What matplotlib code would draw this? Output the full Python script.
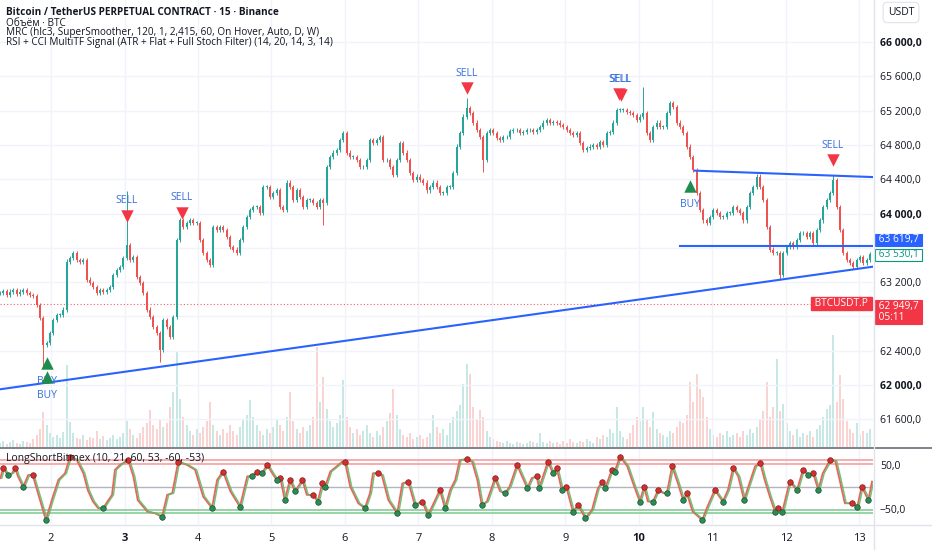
import numpy as np
import matplotlib
matplotlib.use("Agg")
import matplotlib.pyplot as plt
from matplotlib.lines import Line2D

plt.rcParams['font.family'] = ['Open Sans', 'DejaVu Sans']

# BTCUSDT.P closes (~1 candle per hour)
close = [
    63070, 63100, 63050, 63090, 63110, 63060, 63090, 63110, 63070, 63050,
    63040, 62930, 62780, 62470, 62490, 62610, 62760, 62820, 62820, 62880,
    63440, 63480, 63540, 63460, 63440, 63460, 63230, 63190, 63140, 63070,
    63110, 63090, 63110, 63140, 63280, 63340, 63380, 63480, 63630, 63460,
    63490, 63260, 63190, 63070, 62880, 62790, 62680, 62610, 62410, 62760,
    62680, 62560, 62790, 63690, 63920, 63840, 63890, 63920, 63890, 63890,
    63690, 63540, 63460, 63400, 63840, 63810, 63840, 63810, 63730, 63610,
    63580, 63540, 63690, 63840, 63960, 64040, 64080, 64080, 64010, 64310,
    64310, 64190, 64240, 64270, 64080, 64040, 64360, 64310, 64160, 64270,
    64190, 64080, 64160, 64160, 64120, 64080, 64160, 64120, 64540, 64660,
    64710, 64740, 64860, 64940, 64710, 64660, 64660, 64620, 64540, 64540,
    64620, 64860, 64820, 64860, 64890, 64620, 64620, 64540, 64450, 64620,
    64820, 64710, 64620, 64470, 64390, 64430, 64390, 64360, 64270, 64310,
    64360, 64310, 64240, 64240, 64310, 64310, 64470, 64780, 64940, 65130,
    65230, 65170, 65060, 64970, 64890, 64620, 64940, 64970, 64940, 64880,
    64860, 64890, 64890, 64960, 64970, 64970, 64940, 64950, 64970, 64970,
    64950, 64970, 65010, 65060, 65090, 65060, 65070, 65060, 65030, 65010,
    64970, 64940, 64920, 64940, 64820, 64740, 64760, 64780, 64800, 64780,
    64830, 64800, 64940, 64950, 65060, 65210, 65210, 65210, 65180, 65170,
    65150, 65090, 65130, 65170, 64940, 64860, 65010, 65060, 65010, 65010,
    65170, 65290, 65240, 65060, 65010, 64940, 64780, 64660, 64510, 64240,
    64040, 63920, 63890, 63960, 64040, 64010, 63960, 63960, 64010, 64010,
    64080, 64040, 64010, 63920, 64080, 64240, 64310, 64430, 64310, 64160,
    63840, 63580, 63540, 63540, 63280, 63540, 63610, 63660, 63610, 63690,
    63770, 63770, 63730, 63770, 63660, 63810, 63920, 64080, 64160, 64240,
    64390, 64080, 63810, 63540, 63460, 63420, 63380, 63460, 63490, 63420,
    63460, 63530,
]

# volume per candle, hundreds of BTC
volume = [
    4, 6, 3, 5, 7, 4, 3, 6, 5, 4,
    8, 12, 18, 35, 22, 14, 10, 12, 9, 15,
    82, 25, 14, 9, 8, 12, 7, 10, 9, 16,
    8, 11, 7, 9, 12, 8, 10, 14, 26, 18,
    12, 9, 14, 20, 24, 37, 22, 18, 28, 20,
    24, 40, 55, 95, 48, 30, 22, 16, 12, 18,
    14, 20, 26, 45, 22, 16, 12, 18, 14, 22,
    16, 12, 20, 28, 32, 47, 30, 22, 16, 12,
    18, 14, 20, 28, 22, 16, 30, 55, 26, 18,
    14, 20, 16, 22, 30, 100, 45, 70, 38, 26,
    20, 24, 32, 67, 30, 20, 14, 18, 12, 16,
    22, 14, 10, 16, 12, 20, 26, 34, 58, 32,
    18, 12, 10, 14, 8, 10, 12, 8, 10, 14,
    32, 20, 14, 18, 12, 24, 30, 36, 42, 63,
    83, 73, 40, 28, 37, 30, 16, 10, 8, 6,
    5, 4, 6, 4, 3, 5, 4, 3, 4, 6,
    5, 4, 14, 5, 4, 6, 4, 5, 3, 6,
    4, 8, 5, 4, 6, 5, 8, 6, 4, 10,
    8, 12, 10, 18, 14, 40, 16, 10, 8, 14,
    22, 30, 26, 40, 28, 20, 35, 18, 14, 12,
    10, 16, 14, 20, 26, 24, 32, 65, 45, 73,
    58, 50, 30, 18, 12, 10, 14, 12, 16, 10,
    12, 14, 10, 16, 12, 18, 14, 20, 28, 36,
    65, 30, 40, 88, 36, 43, 24, 16, 12, 18,
    10, 14, 12, 16, 10, 18, 22, 30, 38, 42,
    112, 45, 72, 48, 26, 18, 14, 24, 12, 16,
    14, 18,
]

# long wicks that stick out of the candle bodies (candle index: price)
wick_low = {13: 62210, 48: 62270, 97: 63870, 145: 64480, 234: 63225}
wick_high = {38: 64260, 140: 65350, 193: 65475, 201: 65310, 250: 64450}

# signal markers (day, price)
sell_t = [3.03, 3.78, 7.66, 9.73, 9.75, 12.64]
sell_p = [63970, 64010, 65460, 65390, 65380, 64620]
buy_t = [1.95, 1.95, 10.69]
buy_p = [62257, 62090, 64321]

# drawn trend lines (day, price)
support_t = [1.306, 13.184]
support_p = [61950, 63380]
resist_t = [10.76, 13.184]
resist_p = [64500, 64425]
level_t = [10.56, 13.184]
level_p = [63619.7, 63619.7]

last_price = 63530.1
level_price = 63619.7
prev_close = 62949.7

# LongShortBitmex oscillator (day, value)
osc_points = [
    (1.31, 20), (1.35, 43), (1.41, 27), (1.47, 31), (1.51, 43), (1.55, 24),
    (1.62, 0), (1.69, 27), (1.75, 27), (1.85, -30), (1.93, -75), (2.01, -30),
    (2.10, 16), (2.19, 31), (2.26, 69), (2.35, 61), (2.44, 31), (2.50, -7),
    (2.57, -33), (2.64, -48), (2.71, -48), (2.78, -30), (2.83, -18), (2.87, 39),
    (2.94, 50), (3.01, 57), (3.05, 61), (3.12, 24), (3.18, -30), (3.31, -56),
    (3.42, -60), (3.51, -68), (3.58, -18), (3.65, -14), (3.73, 57), (3.85, 50),
    (3.96, 39), (4.07, -22), (4.19, -48), (4.26, 16), (4.34, 35), (4.44, -10),
    (4.57, -45), (4.67, 24), (4.73, 24), (4.80, 35), (4.87, 31), (4.94, 50),
    (5.01, 31), (5.07, 16), (5.12, 20), (5.18, -30), (5.25, 16), (5.32, -10),
    (5.42, 16), (5.48, -18), (5.56, -18), (5.63, -33), (5.69, 8), (5.73, 1),
    (5.80, 35), (5.86, 43), (5.96, 57), (6.00, 57), (6.07, 1), (6.18, -37),
    (6.27, -48), (6.34, -14), (6.38, 31), (6.45, 31), (6.50, 27), (6.59, -30),
    (6.71, -60), (6.78, 8), (6.86, 12), (6.95, -41), (7.05, -33), (7.13, -64),
    (7.29, -7), (7.36, -48), (7.43, -7), (7.50, 16), (7.56, 61), (7.66, 63),
    (7.73, 57), (7.80, 16), (7.86, -41), (7.93, -33), (8.04, 20), (8.11, -10),
    (8.18, -14), (8.24, 1), (8.34, 50), (8.42, 20), (8.48, -3), (8.54, 20),
    (8.61, 24), (8.64, -3), (8.76, 57), (8.83, 31), (8.88, 43), (8.95, -7),
    (9.01, 1), (9.10, -56), (9.17, -41), (9.27, -71), (9.36, -52), (9.44, -3),
    (9.50, 12), (9.54, -3), (9.63, 39), (9.67, 35), (9.74, 69), (9.84, 47),
    (9.92, 8), (10.01, -33), (10.07, 1), (10.12, -33), (10.19, -33), (10.26, -7),
    (10.33, -14), (10.38, -14), (10.45, 47), (10.53, 8), (10.60, -30), (10.65, -14),
    (10.73, -56), (10.86, -75), (10.93, -45), (11.03, -7), (11.14, -33), (11.21, -7),
    (11.28, 43), (11.35, 24), (11.43, -30), (11.48, -3), (11.58, 47), (11.65, 54),
    (11.71, 16), (11.78, -22), (11.85, -56), (11.89, -48), (11.95, -56), (12.05, 12),
    (12.15, -7), (12.23, 39), (12.30, 27), (12.37, 31), (12.44, -7), (12.50, 31),
    (12.60, 61), (12.67, 59), (12.73, 16), (12.80, -37), (12.90, -37), (12.97, -45),
    (13.03, 1), (13.12, -30), (13.17, 12),
]

days = list(range(2, 14))
bold_days = [3, 10]
price_levels = [61600, 62000, 62400, 62800, 63200, 63600, 64000, 64400, 64800, 65200, 65600, 66000]
hidden_levels = [62800, 63600]
bold_levels = [62000, 64000, 66000]

UP = '#26a69a'
DOWN = '#ef5350'
BLUE = '#2962ff'
TXT = '#131722'


def fmt_price(v):
    return f"{v:,.1f}".replace(',', ' ').replace('.', ',')


W, H = 932, 550
fig = plt.figure(figsize=(W / 100, H / 100), dpi=100, facecolor='white')
ax = fig.add_axes([0, 1 - 447 / H, 873 / W, 447 / H])
axo = fig.add_axes([0, 1 - 524 / H, 873 / W, 75 / H])
axv = ax.twinx()

n = len(close)
t = np.linspace(1.306, 13.143, n)
dt = t[1] - t[0]
opens = [close[0]] + close[:-1]
up = [c >= o for o, c in zip(opens, close)]
cols = [UP if u else DOWN for u in up]

highs = [max(o, c) + 25 for o, c in zip(opens, close)]
lows = [min(o, c) - 25 for o, c in zip(opens, close)]
for i, p in wick_high.items():
    highs[i] = p
for i, p in wick_low.items():
    lows[i] = p

bottoms = [min(o, c) for o, c in zip(opens, close)]
heights = [max(abs(c - o), 8) for o, c in zip(opens, close)]

# volume underneath
axv.bar(t, volume, width=dt * 0.55, color=cols, alpha=0.25, linewidth=0)
axv.set_ylim(0, 447)
axv.axis('off')
ax.set_zorder(axv.get_zorder() + 1)
ax.patch.set_visible(False)

# candles
ax.vlines(t, lows, highs, colors=cols, linewidth=0.7, zorder=3)
ax.bar(t, heights, bottom=bottoms, width=dt * 0.65, color=cols, linewidth=0, zorder=4)

# previous close dotted line
ax.axhline(prev_close, color='#f23645', lw=0.8, ls=(0, (1, 2)), alpha=0.8, zorder=2)

# trend lines
ax.plot(support_t, support_p, color=BLUE, lw=1.5, zorder=5)
ax.plot(resist_t, resist_p, color=BLUE, lw=1.5, zorder=5)
ax.plot(level_t, level_p, color=BLUE, lw=1.5, zorder=5)

# signals
ax.scatter(sell_t, sell_p, marker='v', s=80, color='#f23645', linewidths=0, zorder=6)
ax.scatter(buy_t, buy_p, marker='^', s=80, color='#1f8b4c', linewidths=0, zorder=6)
for x, y in zip(sell_t, sell_p):
    ax.annotate('SELL', (x, y), xytext=(0, 11), textcoords='offset points',
                ha='center', va='center', fontsize=7.5, color='#3a6ee0', zorder=7)
for x, y in zip(buy_t, buy_p):
    ax.annotate('BUY', (x, y), xytext=(0, -13), textcoords='offset points',
                ha='center', va='center', fontsize=7.5, color='#3a6ee0', zorder=4.5)

ax.set_xlim(1.306, 13.184)
ax.set_ylim(61277, 66490)
ax.set_xticks(days)
ax.tick_params(axis='x', length=0, labelbottom=False)
ax.yaxis.tick_right()
ax.set_yticks(price_levels)
ax.set_yticklabels(['' if v in hidden_levels else fmt_price(v) for v in price_levels])
ax.tick_params(axis='y', length=0, pad=5, labelsize=7.5, labelcolor=TXT)
for lab, v in zip(ax.get_yticklabels(), price_levels):
    if v in bold_levels:
        lab.set_fontweight('bold')
ax.grid(True, color='#f0f3fa', lw=1)
ax.set_axisbelow(True)
for s in ax.spines.values():
    s.set_visible(False)


def price_tag(a, y, text, fc, tc, ec, dy=0, va='center', ls=1.0):
    a.annotate(text, xy=(1, y), xycoords=('axes fraction', 'data'),
               xytext=(2.2, dy), textcoords='offset points', ha='left', va=va,
               fontsize=7.3, color=tc, linespacing=ls, annotation_clip=False,
               bbox=dict(boxstyle='square,pad=0.06', fc=fc, ec=ec, lw=0.8), zorder=10)


price_tag(ax, level_price, ' ' + fmt_price(level_price) + ' ', BLUE, 'white', BLUE, dy=4.6)
price_tag(ax, last_price, ' ' + fmt_price(last_price) + ' ', 'white', '#089981', '#089981', dy=-0.6)
price_tag(ax, prev_close, ' ' + fmt_price(prev_close) + ' \n 05:11', '#f23645', 'white', '#f23645',
          dy=2.2, va='top', ls=1.05)
ax.annotate(' BTCUSDT.P ', xy=(1, prev_close), xycoords=('axes fraction', 'data'),
            xytext=(-1.5, 0), textcoords='offset points', ha='right', va='center',
            fontsize=7.3, color='white', annotation_clip=False,
            bbox=dict(boxstyle='square,pad=0.1', fc='#f23645', ec='#f23645'), zorder=10)

# oscillator
osc_t = np.array([p[0] for p in osc_points])
osc_v = np.array([p[1] for p in osc_points])
axo.axhline(60, color='#f7a6a6', lw=1.3)
axo.axhline(53, color='#f7a6a6', lw=1.3)
axo.axhline(0, color='#b2b5be', lw=1)
axo.axhline(-53, color='#8fd19e', lw=1.3)
axo.axhline(-60, color='#8fd19e', lw=1.3)
axo.plot(osc_t, osc_v, color='#f0605d', lw=1.3, zorder=3)
axo.plot(osc_t + 0.02, osc_v, color='#66bb6a', lw=1.1, alpha=0.9, zorder=3)
peaks = [i for i in range(1, len(osc_v) - 1) if osc_v[i] >= osc_v[i - 1] and osc_v[i] > osc_v[i + 1]]
troughs = [i for i in range(1, len(osc_v) - 1) if osc_v[i] <= osc_v[i - 1] and osc_v[i] < osc_v[i + 1]]
axo.scatter(osc_t[peaks], osc_v[peaks], s=16, color='#d32f2f', edgecolors='#7f1d1d', linewidths=0.5, zorder=4)
axo.scatter(osc_t[troughs], osc_v[troughs], s=16, color='#2e8b57', edgecolors='#14532d', linewidths=0.5, zorder=4)
axo.text(0.007, 0.87, 'LongShortBitmex (10, 21, 60, 53, -60, -53)', transform=axo.transAxes,
         ha='left', va='center', fontsize=7.5, color=TXT, zorder=6)

axo.set_xlim(1.306, 13.184)
axo.set_ylim(-84, 86)
axo.yaxis.tick_right()
axo.set_yticks([50, -50])
axo.set_yticklabels(['50,0', '\u221250,0'])
axo.tick_params(axis='y', length=0, pad=5, labelsize=7.5, labelcolor=TXT)
axo.set_xticks(days)
axo.set_xticklabels([str(d) for d in days])
axo.tick_params(axis='x', length=0, pad=6.5, labelsize=8, labelcolor=TXT)
for lab, d in zip(axo.get_xticklabels(), days):
    if d in bold_days:
        lab.set_fontweight('bold')
axo.grid(True, axis='x', color='#f0f3fa', lw=1)
axo.set_axisbelow(True)
for s in axo.spines.values():
    s.set_visible(False)

# panel separators
fig.add_artist(Line2D([0, 1], [1 - 447.5 / H] * 2, color='#6a6d78', lw=1.2))
fig.add_artist(Line2D([0, 1], [1 - 524.5 / H] * 2, color='#e0e3eb', lw=1))
fig.add_artist(Line2D([873.5 / W] * 2, [0, 1], color='#e0e3eb', lw=1))

# header
fig.text(6 / W, 1 - 12.5 / H, 'Bitcoin / TetherUS PERPETUAL CONTRACT \u00b7 15 \u00b7 Binance',
         fontsize=7.2, fontweight='bold', color=TXT, va='center')
fig.text(6 / W, 1 - 23 / H, '\u041e\u0431\u044a\u0451\u043c \u00b7 BTC', fontsize=7.2, color=TXT, va='center')
fig.text(6 / W, 1 - 33 / H, 'MRC (hlc3, SuperSmoother, 120, 1, 2,415, 60, On Hover, Auto, D, W)',
         fontsize=7.2, color=TXT, va='center')
fig.text(6 / W, 1 - 42.5 / H, 'RSI + CCI MultiTF Signal (ATR + Flat + Full Stoch Filter) (14, 20, 14, 3, 14)',
         fontsize=7.2, color=TXT, va='center')
fig.text(901 / W, 1 - 12.5 / H, 'USDT', fontsize=7.5, color=TXT, ha='center', va='center',
         bbox=dict(boxstyle='round,pad=0.45,rounding_size=0.4', fc='white', ec='#e0e3eb', lw=0.8))

fig.savefig('out.png', dpi=100, facecolor='white')
